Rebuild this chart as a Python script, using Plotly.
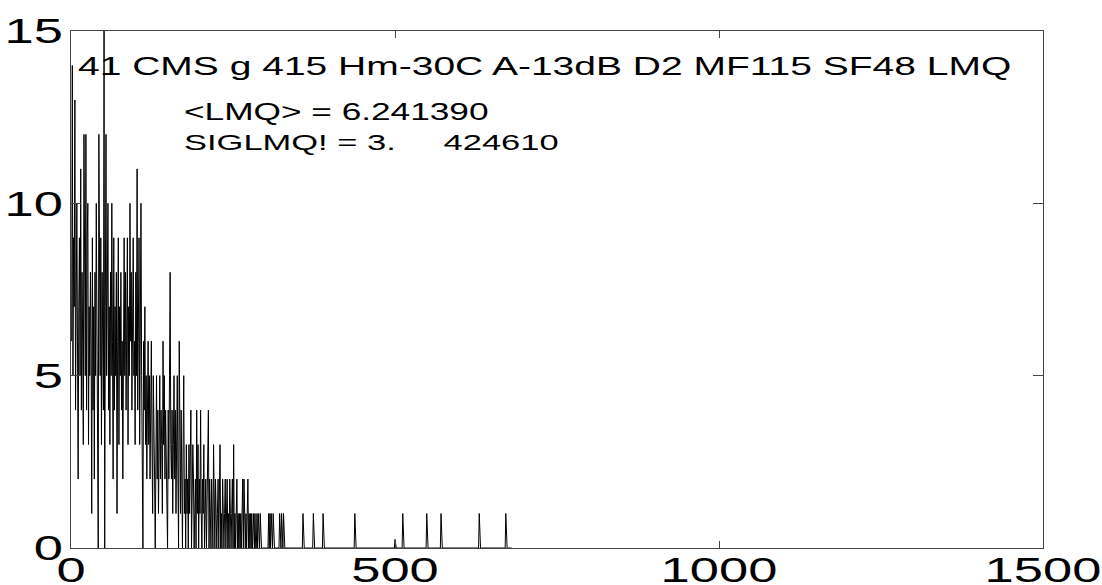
import plotly.graph_objects as go

# LMQ value per channel for channels 1..340 (the dense part of the record)
lmq_head = [
    6, 14, 5, 9, 7, 13, 4, 8, 10, 6, 2, 7, 9, 5, 11, 4, 8, 6, 3, 12,
    7, 5, 12, 4, 9, 10, 3, 7, 5, 8, 6, 1, 9, 4, 7, 2, 8, 5, 10, 6,
    4, 0, 12, 7, 5, 9, 3, 8, 6, 4, 15, 0, 7, 12, 5, 9, 10, 4, 7, 3,
    8, 5, 10, 6, 2, 9, 4, 7, 5, 8, 1, 6, 9, 3, 7, 5, 8, 4, 6, 2,
    7, 9, 5, 8, 4, 6, 9, 3, 7, 5, 10, 6, 8, 4, 7, 9, 5, 6, 3, 8,
    5, 11, 4, 7, 9, 3, 6, 10, 5, 2, 0, 6, 4, 7, 3, 5, 2, 4, 6, 3,
    5, 2, 4, 6, 3, 1, 5, 4, 2, 0, 3, 5, 2, 4, 1, 3, 5, 2, 4, 3,
    1, 6, 3, 5, 2, 4, 3, 1, 0, 4, 2, 5, 8, 3, 2, 4, 1, 3, 5, 2,
    4, 1, 3, 5, 2, 0, 6, 3, 1, 4, 2, 0, 3, 5, 1, 2, 0, 3, 1, 2,
    0, 3, 1, 2, 4, 0, 1, 3, 2, 0, 1, 2, 0, 4, 1, 3, 0, 2, 1, 4,
    1, 0, 2, 1, 3, 0, 1, 2, 0, 1, 3, 4, 0, 2, 1, 0, 2, 1, 0, 3,
    1, 0, 2, 1, 0, 1, 2, 0, 1, 3, 0, 1, 0, 2, 1, 0, 1, 2, 0, 1,
    2, 0, 1, 0, 2, 1, 0, 1, 2, 0, 3, 0, 1, 0, 1, 2, 0, 1, 0, 1,
    0, 1, 0, 1, 2, 0, 2, 1, 0, 1, 0, 1, 2, 0, 1, 0, 1, 0, 1, 0,
    1, 1, 0, 1, 0, 0, 1, 0, 1, 0, 0, 1, 0, 0, 0, 0, 0, 0, 0, 0,
    0, 0, 0, 0, 1, 0, 1, 0, 1, 0, 0, 1, 0, 0, 0, 0, 0, 0, 0, 0,
    0, 1, 0, 0, 1, 0, 0, 1, 0, 0, 0, 0, 0, 0, 0, 0, 0, 0, 0, 0,
]

# sparse tail: the only non-zero channels after 340
tail_channels = [358, 374, 389, 438, 500, 512, 549, 571, 630, 671]
tail_values = [1, 1, 1, 1, 0.25, 1, 1, 1, 1, 1]
n_channels = 680

x_ticks = [0, 500, 1000, 1500]
y_ticks = [0, 5, 10, 15]

header = "41 CMS g 415 Hm-30C A-13dB D2 MF115 SF48 LMQ"
mean_line = "&lt;LMQ&gt; = 6.241390"
sigma_line = "SIGLMQ! = 3.&nbsp;&nbsp;&nbsp;&nbsp; 424610"

lmq = lmq_head + [0] * (n_channels - len(lmq_head))
for ch, v in zip(tail_channels, tail_values):
    lmq[ch - 1] = v
channels = list(range(1, n_channels + 1))

FONT = "Liberation Sans, Arial, Helvetica, sans-serif"
FRAME = "#444444"

fig = go.Figure(
    go.Scatter(
        x=channels, y=lmq, mode="lines",
        line=dict(color="black", width=1),
        hoverinfo="skip",
    )
)

axis_common = dict(
    showline=True, linecolor=FRAME, linewidth=1, mirror="allticks",
    ticks="inside", tickcolor=FRAME, tickwidth=1,
    showgrid=False, zeroline=False, automargin=False,
    tickfont=dict(family=FONT, size=35, color="black"),
)
fig.update_xaxes(range=[0, 1500], tickvals=x_ticks, ticklen=7,
                 ticklabelstandoff=-9, **axis_common)
fig.update_yaxes(range=[0, 15], tickvals=y_ticks, ticklen=10, **axis_common)

fig.update_layout(
    width=1102, height=585,
    margin=dict(l=71, r=59, t=31, b=37),
    plot_bgcolor="white", paper_bgcolor="white",
    showlegend=False,
    font=dict(family=FONT, color="black"),
)

notes = [
    (header, 0.005, 0.932, 25),
    (mean_line, 0.114, 0.844, 23.5),
    (sigma_line, 0.114, 0.786, 23),
]
for txt, px, py, sz in notes:
    fig.add_annotation(
        text=txt, xref="paper", yref="paper", x=px, y=py,
        xanchor="left", yanchor="middle", align="left",
        showarrow=False, font=dict(family=FONT, size=sz, color="black"),
    )

# widen every label horizontally about its anchor point
stretch_js = """
function widen(t, s){
  var x = parseFloat(t.getAttribute('x') || '0');
  var tr = t.getAttribute('transform') || '';
  t.setAttribute('transform', tr + ' translate(' + x + ',0) scale(' + s + ',1) translate(' + (-x) + ',0)');
}
document.querySelectorAll('svg.main-svg text').forEach(function(t){
  var head = t.closest('.annotation[data-index="0"]');
  widen(t, head ? 1.56 : 1.5);
});
"""

fig.write_html("out.html", post_script=stretch_js)
